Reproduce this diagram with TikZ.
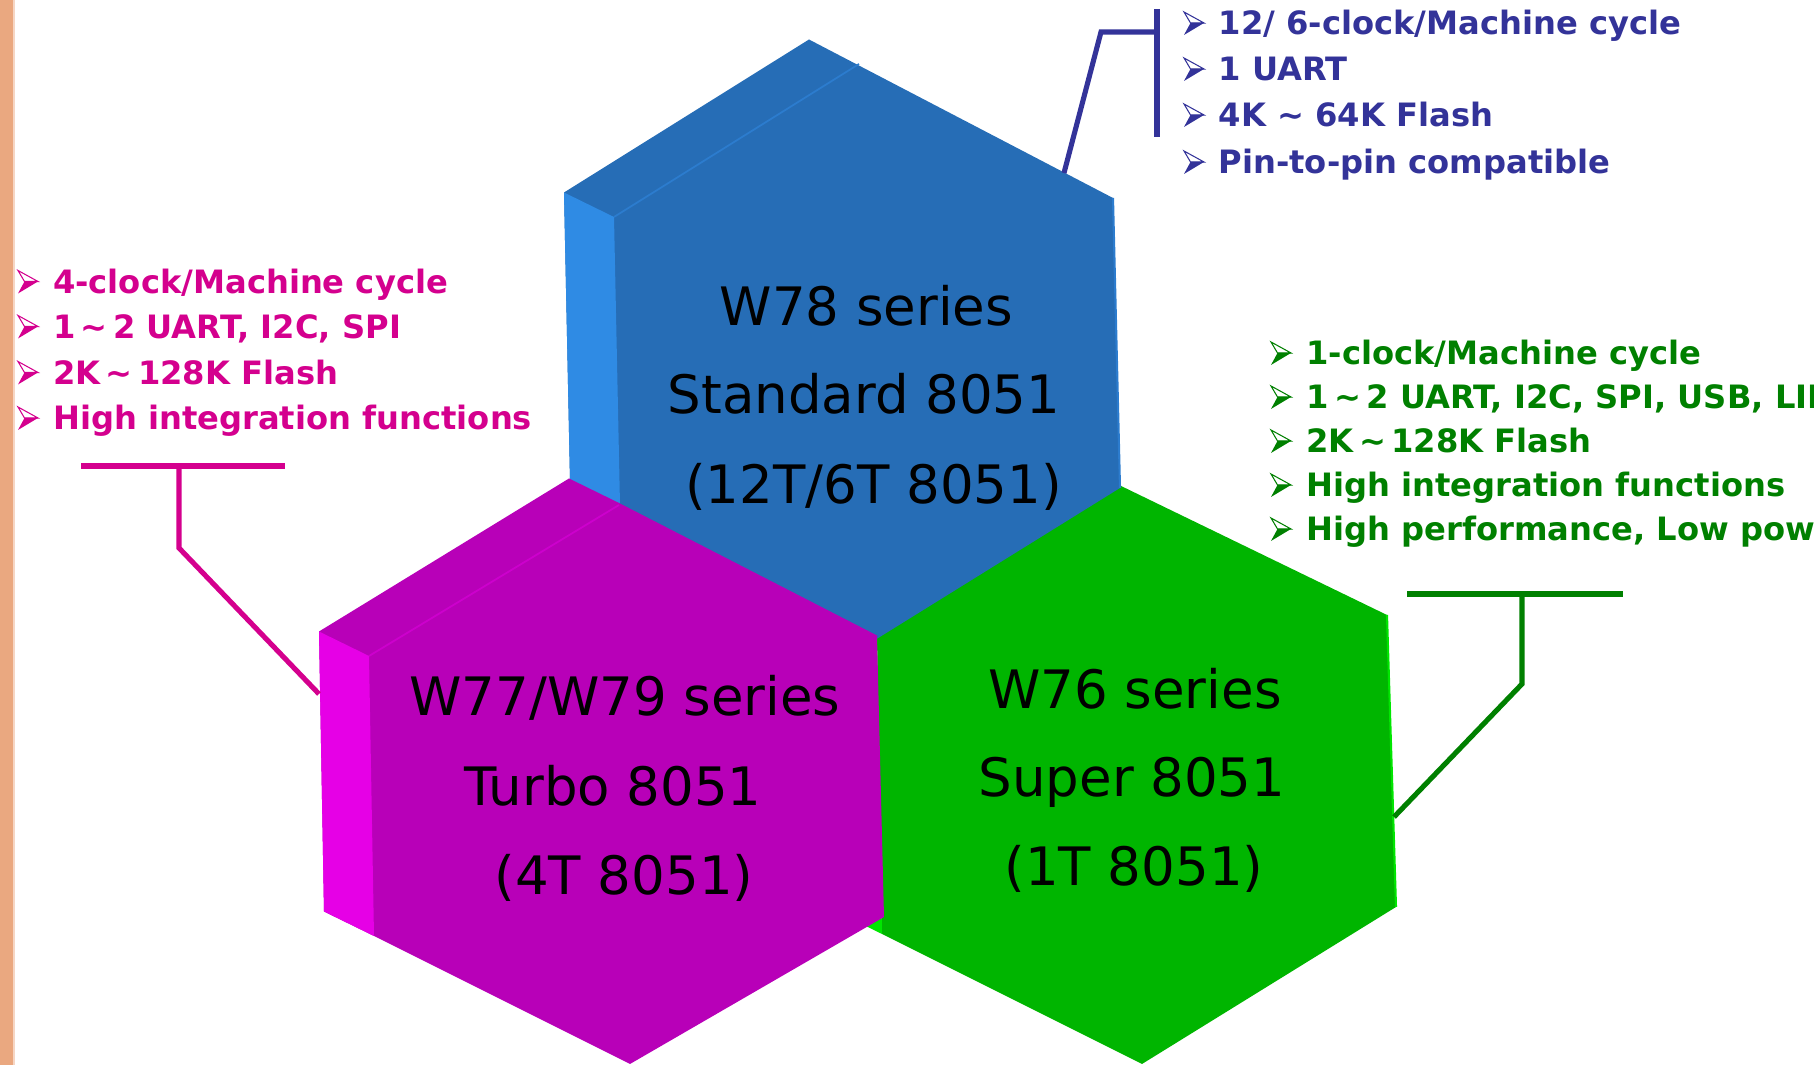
\documentclass[tikz,border=0pt]{standalone}
\usepackage{fontspec}
\setmainfont{DejaVu Sans}
\definecolor{bluefront}{RGB}{38,109,182}
\definecolor{blueside}{RGB}{47,139,228}
\definecolor{blueedge}{RGB}{44,124,206}
\definecolor{purpfront}{RGB}{184,0,184}
\definecolor{purpside}{RGB}{230,0,230}
\definecolor{purpedge}{RGB}{205,0,205}
\definecolor{greenfront}{RGB}{0,181,0}
\definecolor{greenside}{RGB}{0,230,0}
\definecolor{pinktext}{RGB}{212,0,142}
\definecolor{bluetext}{RGB}{51,51,153}
\definecolor{greentext}{RGB}{0,128,0}
\definecolor{barcolor}{RGB}{234,168,128}
\definecolor{barlight}{RGB}{246,214,196}
\tikzset{
  hexlabel/.style={anchor=base, inner sep=0pt, font=\fontsize{15.06}{18}\selectfont, text=black},
  listline/.style={anchor=base west, inner sep=0pt, font=\fontsize{9.15}{11}\selectfont\bfseries},
  callout/.style={line width=1.45pt, line cap=butt, line join=miter},
  arrowbullet/.pic={
    \fill[white] (0,-23) -- (20,-12) -- (6.5,-12) -- cycle;
    \draw[line width=0.3pt, line join=miter] (0,-23) -- (20,-12) -- (6.5,-12) -- cycle;
    \fill (0,0) -- (20,-12) -- (6.5,-12) -- cycle;
  },
}
\begin{document}
\begin{tikzpicture}[x=0.01cm,y=-0.01cm]
\useasboundingbox (0,0) rectangle (1814,1065);
\clip (0,0) rectangle (1814,1065);
% left decorative bar
\fill[barcolor] (0,0) rectangle (13,1065);
\fill[barlight] (13,0) rectangle (15,1065);

% ---------- green hexagon ----------
\fill[greenfront] (1119,485) -- (1387,615) -- (1396,907) -- (1142,1064) -- (882,934) -- (877,636) -- cycle;
\fill[greenside] (827,611.5) -- (877,636) -- (882,934) -- (832,909.5) -- cycle;
\draw[greenside, line width=0.6pt] (1387,615) -- (1396,907);

% ---------- blue hexagon ----------
\fill[bluefront] (809,39.5) -- (1113,198) -- (1120,488) -- (875,640) -- (620,505) -- (570,480.5) -- (564,192.5) -- cycle;
\fill[blueside] (564,192.5) -- (614,217) -- (620,505) -- (570,480.5) -- cycle;
\draw[blueedge, line width=0.5pt] (614,217) -- (859,64);
\draw[blueedge, line width=0.6pt] (1113,198) -- (1120,488);

% ---------- purple hexagon ----------
\fill[purpfront] (569,478.5) -- (619,503) -- (877,635.5) -- (884,917) -- (630,1064) -- (374,936) -- (324,911.5) -- (319,631.5) -- cycle;
\fill[purpside] (319,631.5) -- (369,656) -- (374,936) -- (324,911.5) -- cycle;
\draw[purpedge, line width=0.5pt] (369,656) -- (619,505);

% ---------- hexagon labels ----------
\node[hexlabel] (b1) at (866.5,326) {W78 series};
\node[hexlabel] (b2) at (864,413.5) {Standard 8051};
\node[hexlabel] (b3) at (873.6,503.5) {(12T/6T 8051)};
\node[hexlabel] (p1) at (625,716) {W77/W79 series};
\node[hexlabel] (p2) at (613,806) {Turbo 8051};
\node[hexlabel] (p3) at (624,895) {(4T 8051)};
\node[hexlabel] (g1) at (1135,709) {W76 series};
\node[hexlabel] (g2) at (1132,797) {Super 8051};
\node[hexlabel] (g3) at (1134,886) {(1T 8051)};

% ---------- feature lists ----------
\begin{scope}[every node/.style={listline, text=pinktext}]
\foreach \y in {293.5,338.5,384.5,430} \pic[pinktext] at (18,\y) {arrowbullet};
\node (pl1) at (52.4,293.5) {4-clock/Machine cycle};
\node (pl2) at (52.4,338.5) {1\,\char`\~\,2 UART, I2C, SPI};
\node (pl3) at (52.4,384.5) {2K\,\char`\~\,128K Flash};
\node (pl4) at (52.4,430) {High integration functions};
\end{scope}
\begin{scope}[every node/.style={listline, text=bluetext}]
\foreach \y in {35,81,127,174} \pic[bluetext] at (1184,\y) {arrowbullet};
\node (bl1) at (1218,35) {12/ 6-clock/Machine cycle};
\node (bl2) at (1218,81) {1 UART};
\node (bl3) at (1218,127) {4K \char`\~\ 64K Flash};
\node (bl4) at (1218,174) {Pin-to-pin compatible};
\end{scope}
\begin{scope}[every node/.style={listline, text=greentext}]
\foreach \y in {365,409,453,497,541} \pic[greentext] at (1271,\y) {arrowbullet};
\node (gl1) at (1305.7,365) {1-clock/Machine cycle};
\node (gl2) at (1305.7,409) {1\,\char`\~\,2 UART, I2C, SPI, USB, LIN};
\node (gl3) at (1305.7,453) {2K\,\char`\~\,128K Flash};
\node (gl4) at (1305.7,497) {High integration functions};
\node (gl5) at (1305.7,541) {High performance, Low power};
\end{scope}

% ---------- callout connectors ----------
\coordinate (pbarL) at (81,466);
\coordinate (pbarR) at (285,466);
\coordinate (pbarM) at (179,466);
\coordinate (pknee) at (179,548);
\coordinate (phex) at (319,694);
\draw[callout, pinktext] (pbarL) -- (pbarR);
\draw[callout, pinktext] (pbarM) -- (pknee) -- (phex);

\coordinate (bbarT) at (1157,9);
\coordinate (bbarB) at (1157,137);
\coordinate (bbarM) at (1157,32);
\coordinate (bknee) at (1101,32);
\coordinate (bhex) at (1064,173);
\draw[callout, bluetext] (bbarT) -- (bbarB);
\draw[callout, bluetext] (bbarM) -- (bknee) -- (bhex);

\coordinate (gbarL) at (1407,594);
\coordinate (gbarR) at (1623,594);
\coordinate (gbarM) at (1522,594);
\coordinate (gknee) at (1522,684);
\coordinate (ghex) at (1394,817);
\draw[callout, greentext] (gbarL) -- (gbarR);
\draw[callout, greentext] (gbarM) -- (gknee) -- (ghex);
\end{tikzpicture}
\end{document}
